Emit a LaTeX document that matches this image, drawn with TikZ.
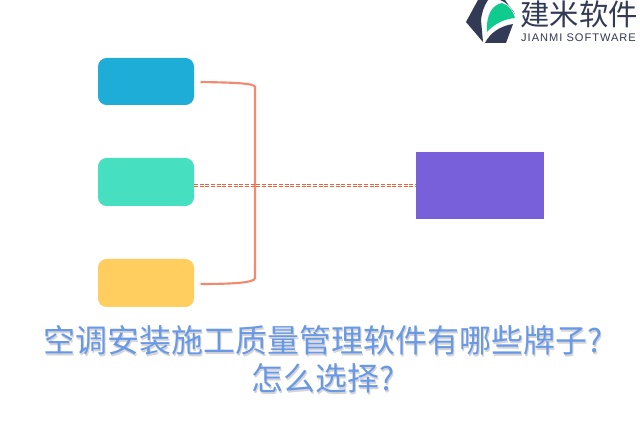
\documentclass[tikz,border=0pt]{standalone}
\usepackage{fontspec}
\setmainfont{Liberation Sans}
\newfontfamily\cjk{Noto Sans CJK SC}
\definecolor{boxblue}{HTML}{1EADD6}
\definecolor{boxgreen}{HTML}{46E0C0}
\definecolor{boxyellow}{HTML}{FFCE5E}
\definecolor{boxpurple}{HTML}{7760DA}
\definecolor{bracket}{HTML}{F28A72}
\definecolor{dotline}{HTML}{F0623A}
\definecolor{titleblue}{HTML}{6898E6}
\definecolor{logodark}{HTML}{333A56}
\definecolor{logogreen}{HTML}{0FCB8E}
\tikzset{
  roundbox/.style={rounded corners=6.5pt,minimum width=72pt,inner sep=0pt,outer sep=0pt},
  titlefont/.style={font=\cjk\fontsize{24}{28.8}\selectfont,align=center,inner sep=0pt},
  bracketline/.style={draw=bracket,line width=1.6pt},
  linkline/.style={draw=dotline,line width=0.7pt,dash pattern=on 3pt off 1.25pt}
}
\begin{document}
\begin{tikzpicture}[x=0.75pt,y=-0.75pt]
\useasboundingbox (0,0) rectangle (640,427);
\fill[white] (0,0) rectangle (640,427);
% boxes
\node[roundbox,fill=boxblue,minimum height=35.25pt] (blue) at (146,81.5) {};
\node[roundbox,fill=boxgreen,minimum height=36pt] (green) at (146,182) {};
\node[roundbox,fill=boxyellow,minimum height=36pt] (yellow) at (146,283) {};
\node[fill=boxpurple,minimum width=96pt,minimum height=50.25pt,inner sep=0pt,outer sep=0pt] (purple) at (480,185.5) {};
% bracket
\coordinate (bt) at (200.5,82);
\coordinate (bb) at (200.5,284);
\draw[bracketline] (bt) .. controls (230,82.5) and (255,83) .. (255,87) -- (255,278) .. controls (255,283) and (230,284) .. (bb);
% double dashed link
\draw[linkline] ([yshift=0.9pt]green.east |- purple.west) -- ([yshift=0.9pt]purple.west);
\draw[linkline] ([yshift=-0.6pt]green.east |- purple.west) -- ([yshift=-0.6pt]purple.west);
% title
\node[titlefont,text=black!17] at (324.5,361) {空调安装施工质量管理软件有哪些牌子?\\怎么选择?};
\node[titlefont,text=titleblue] (title) at (323.5,359) {空调安装施工质量管理软件有哪些牌子?\\怎么选择?};
% logo
\fill[logodark] (478,0) -- (488,0) .. controls (484,6) and (482,12) .. (481,20) -- (483,42) -- (466,22) -- cycle;
\fill[logodark] (485,43) .. controls (490,33) and (500,26) .. (513,24) -- (506,43) -- cycle;
\fill[logodark] (500,0) -- (505,0) -- (515,14) .. controls (511,7) and (506,2) .. (500,0) -- cycle;
\fill[logogreen] (487,32) .. controls (486,15) and (492,5) .. (502,3) .. controls (509,5) and (513,11) .. (515,18) .. controls (504,19) and (494,24) .. (487,32) -- cycle;
\node[font=\cjk\fontsize{22}{24}\selectfont,text=logodark,inner sep=0pt] (logoname) at (579,14) {建米软件};
\node[font=\fontsize{8.3}{10}\selectfont\addfontfeatures{LetterSpace=9},text=logodark,inner sep=0pt] (logosub) at (578.5,38) {JIANMI SOFTWARE};
\end{tikzpicture}
\end{document}
